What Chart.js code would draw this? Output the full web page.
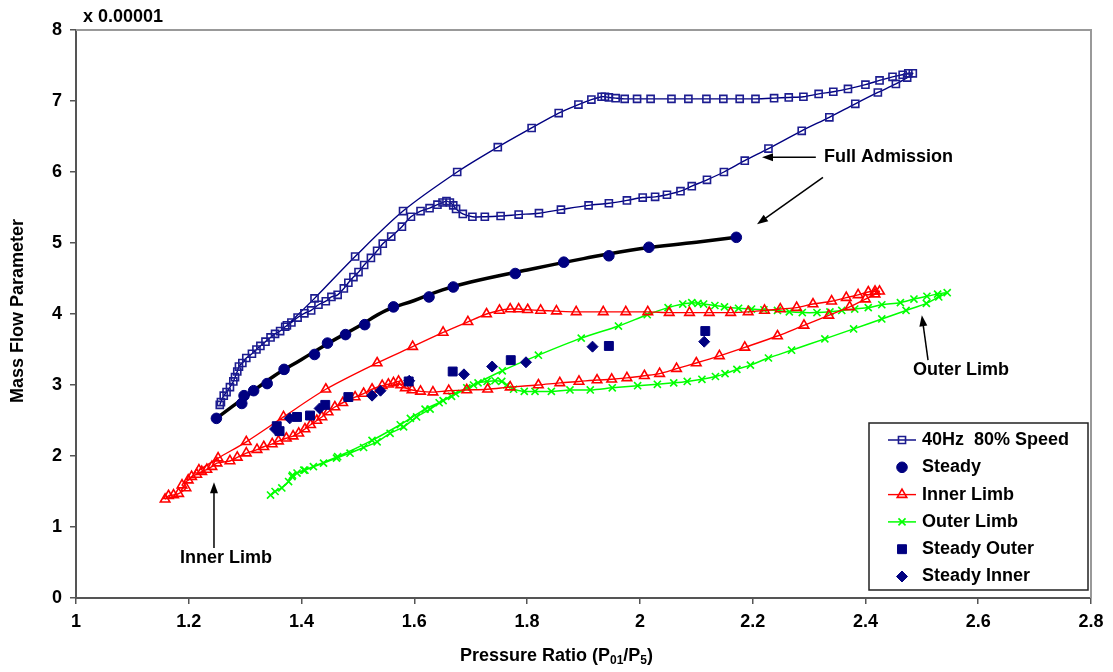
<!DOCTYPE html>
<html>
<head>
<meta charset="utf-8">
<script src="https://cdn.jsdelivr.net/npm/chart.js@4.4.1/dist/chart.umd.min.js"></script>
<style>
  html, body { margin: 0; padding: 0; background: #fff; }
  #grafico { display: block; }
</style>
</head>
<body>
<canvas id="grafico" width="1113" height="672"></canvas>
<script>
/* ============================================================
DADOS
============================================================ */

// 40Hz 80% Speed (loop: ramo de baixo ida, ramo de cima volta)
const fullX = [1.255, 1.257, 1.262, 1.267, 1.273, 1.279, 1.282, 1.286, 1.289, 1.295, 1.302, 1.312, 1.320, 1.327, 1.336, 1.345, 1.353, 1.362, 1.371, 1.382, 1.393, 1.405, 1.417, 1.430, 1.443, 1.453, 1.464, 1.475, 1.483, 1.492, 1.501, 1.511, 1.523, 1.534, 1.544, 1.559, 1.578, 1.594, 1.611, 1.627, 1.641, 1.650, 1.657, 1.663, 1.669, 1.674, 1.686, 1.703, 1.725, 1.753, 1.785, 1.821, 1.860, 1.909, 1.945, 1.977, 2.005, 2.027, 2.048, 2.072, 2.092, 2.119, 2.149, 2.186, 2.228, 2.287, 2.336, 2.382, 2.422, 2.454, 2.474, 2.484,
  2.476, 2.466, 2.448, 2.425, 2.400, 2.369, 2.343, 2.317, 2.290, 2.264, 2.238, 2.205, 2.177, 2.148, 2.118, 2.086, 2.056, 2.019, 1.995, 1.973, 1.957, 1.945, 1.938, 1.932, 1.914, 1.891, 1.856, 1.808, 1.748, 1.676, 1.580, 1.495, 1.423, 1.374];
const fullY = [2.72, 2.76, 2.85, 2.90, 2.97, 3.05, 3.11, 3.19, 3.26, 3.31, 3.38, 3.44, 3.50, 3.55, 3.61, 3.67, 3.72, 3.76, 3.82, 3.88, 3.95, 4.01, 4.05, 4.13, 4.18, 4.24, 4.27, 4.36, 4.44, 4.52, 4.59, 4.69, 4.79, 4.89, 4.99, 5.09, 5.23, 5.37, 5.45, 5.49, 5.54, 5.57, 5.59, 5.57, 5.53, 5.48, 5.41, 5.37, 5.37, 5.38, 5.40, 5.42, 5.47, 5.53, 5.56, 5.60, 5.64, 5.65, 5.68, 5.73, 5.80, 5.89, 6.00, 6.16, 6.33, 6.58, 6.77, 6.96, 7.12, 7.24, 7.33, 7.39,
  7.39, 7.37, 7.34, 7.29, 7.23, 7.17, 7.13, 7.10, 7.06, 7.05, 7.04, 7.03, 7.03, 7.03, 7.03, 7.03, 7.03, 7.03, 7.03, 7.03, 7.04, 7.05, 7.06, 7.06, 7.02, 6.95, 6.83, 6.62, 6.35, 6.00, 5.45, 4.81, 4.22, 3.84];

// Steady
const steadyX = [1.249, 1.294, 1.298, 1.315, 1.339, 1.369, 1.423, 1.446, 1.478, 1.512, 1.563, 1.626, 1.669, 1.779, 1.865, 1.945, 2.016, 2.171];
const steadyY = [2.53, 2.74, 2.85, 2.92, 3.02, 3.22, 3.43, 3.59, 3.71, 3.85, 4.10, 4.24, 4.38, 4.57, 4.73, 4.82, 4.94, 5.08];

// curva preta (Full Admission)
const curvaX = [1.249, 1.30, 1.35, 1.40, 1.45, 1.50, 1.55, 1.60, 1.65, 1.70, 1.80, 1.90, 2.00, 2.10, 2.171];
const curvaY = [2.53, 2.83, 3.12, 3.36, 3.60, 3.82, 4.05, 4.19, 4.34, 4.45, 4.62, 4.78, 4.92, 5.01, 5.08];

// Inner Limb
const innerX = [1.158, 1.164, 1.173, 1.182, 1.195, 1.188, 1.199, 1.205, 1.214, 1.223, 1.232, 1.241, 1.250, 1.273, 1.286, 1.302, 1.321, 1.333, 1.348, 1.359, 1.373, 1.385, 1.395, 1.406, 1.416, 1.427, 1.436, 1.447, 1.459, 1.473, 1.495, 1.510, 1.525, 1.543, 1.554, 1.563, 1.572, 1.576, 1.584, 1.596, 1.611, 1.633, 1.661, 1.693, 1.730, 1.770, 1.820, 1.858, 1.892, 1.924, 1.950, 1.977, 2.008, 2.035, 2.065, 2.100, 2.141, 2.186, 2.244, 2.291, 2.335, 2.372, 2.400, 2.417, 2.425,
  2.417, 2.405, 2.387, 2.366, 2.340, 2.307, 2.278, 2.249, 2.221, 2.192, 2.161, 2.123, 2.088, 2.052, 2.014, 1.975, 1.935, 1.887, 1.852, 1.824, 1.801, 1.785, 1.770, 1.751, 1.728, 1.695, 1.651, 1.597, 1.534, 1.443, 1.368, 1.302, 1.252, 1.218];
const innerY = [1.39, 1.44, 1.45, 1.47, 1.55, 1.59, 1.66, 1.71, 1.74, 1.78, 1.81, 1.85, 1.90, 1.93, 1.98, 2.04, 2.09, 2.13, 2.17, 2.21, 2.25, 2.28, 2.32, 2.38, 2.44, 2.50, 2.55, 2.62, 2.69, 2.75, 2.83, 2.88, 2.94, 2.99, 3.01, 3.03, 3.05, 3.00, 2.96, 2.93, 2.91, 2.90, 2.92, 2.93, 2.94, 2.97, 3.00, 3.03, 3.05, 3.07, 3.08, 3.10, 3.13, 3.16, 3.23, 3.31, 3.41, 3.53, 3.69, 3.84, 3.98, 4.10, 4.21, 4.28, 4.32,
  4.32, 4.31, 4.27, 4.23, 4.18, 4.14, 4.09, 4.07, 4.05, 4.03, 4.02, 4.02, 4.02, 4.02, 4.03, 4.03, 4.03, 4.03, 4.04, 4.05, 4.06, 4.07, 4.07, 4.05, 4.00, 3.89, 3.74, 3.54, 3.31, 2.94, 2.55, 2.20, 1.97, 1.80];

// Outer Limb
const outerX = [1.345, 1.353, 1.365, 1.377, 1.383, 1.392, 1.406, 1.421, 1.439, 1.462, 1.486, 1.510, 1.534, 1.557, 1.581, 1.604, 1.628, 1.651, 1.673, 1.693, 1.713, 1.729, 1.743, 1.755, 1.764, 1.776, 1.795, 1.814, 1.843, 1.876, 1.912, 1.951, 1.996, 2.031, 2.060, 2.084, 2.110, 2.134, 2.151, 2.172, 2.196, 2.228, 2.269, 2.328, 2.379, 2.429, 2.472, 2.508, 2.530, 2.545,
  2.528, 2.509, 2.486, 2.462, 2.429, 2.405, 2.381, 2.358, 2.337, 2.314, 2.288, 2.265, 2.244, 2.220, 2.198, 2.175, 2.150, 2.133, 2.113, 2.103, 2.092, 2.076, 2.050, 2.013, 1.962, 1.896, 1.820, 1.756, 1.705, 1.666, 1.644, 1.619, 1.593, 1.575, 1.525, 1.464, 1.404, 1.384];
const outerY = [1.45, 1.50, 1.55, 1.64, 1.71, 1.76, 1.80, 1.85, 1.90, 1.97, 2.04, 2.12, 2.20, 2.32, 2.41, 2.55, 2.66, 2.78, 2.88, 2.96, 3.03, 3.05, 3.06, 3.05, 3.00, 2.94, 2.91, 2.91, 2.91, 2.93, 2.93, 2.96, 2.99, 3.01, 3.03, 3.05, 3.08, 3.12, 3.16, 3.22, 3.28, 3.38, 3.49, 3.65, 3.79, 3.93, 4.05, 4.15, 4.24, 4.30,
  4.28, 4.25, 4.21, 4.16, 4.13, 4.09, 4.07, 4.05, 4.03, 4.02, 4.02, 4.03, 4.05, 4.06, 4.07, 4.08, 4.10, 4.12, 4.14, 4.15, 4.16, 4.14, 4.09, 3.99, 3.83, 3.66, 3.42, 3.20, 3.00, 2.84, 2.75, 2.66, 2.53, 2.44, 2.22, 1.99, 1.80, 1.73];

// Steady Outer
const stOuterX = [1.356, 1.361, 1.392, 1.415, 1.442, 1.483, 1.590, 1.668, 1.771, 1.945, 2.116];
const stOuterY = [2.42, 2.35, 2.55, 2.57, 2.72, 2.83, 3.05, 3.19, 3.35, 3.55, 3.76];

// Steady Inner
const stInnerX = [1.353, 1.379, 1.432, 1.525, 1.540, 1.591, 1.688, 1.738, 1.798, 1.916, 2.114];
const stInnerY = [2.38, 2.53, 2.67, 2.85, 2.92, 3.06, 3.15, 3.26, 3.32, 3.54, 3.61];

// eixos
const xTicks = [1, 1.2, 1.4, 1.6, 1.8, 2, 2.2, 2.4, 2.6, 2.8];
const yTicks = [0, 1, 2, 3, 4, 5, 6, 7, 8];

function pontos(xs, ys) {
  return xs.map((x, i) => ({ x: x, y: ys[i] }));
}

const FONTE = "Arial, 'Liberation Sans', sans-serif";
const AZUL = "#000080";

/* ============================================================
PLUGIN: TITULOS, LEGENDA, SETAS
============================================================ */

function seta(ctx, x1, y1, x2, y2) {
  const ang = Math.atan2(y2 - y1, x2 - x1);
  const tam = 11;
  ctx.beginPath();
  ctx.moveTo(x1, y1);
  ctx.lineTo(x2 - Math.cos(ang) * tam * 0.8, y2 - Math.sin(ang) * tam * 0.8);
  ctx.stroke();
  ctx.beginPath();
  ctx.moveTo(x2, y2);
  ctx.lineTo(x2 - Math.cos(ang) * tam + Math.sin(ang) * 4, y2 - Math.sin(ang) * tam - Math.cos(ang) * 4);
  ctx.lineTo(x2 - Math.cos(ang) * tam - Math.sin(ang) * 4, y2 - Math.sin(ang) * tam + Math.cos(ang) * 4);
  ctx.closePath();
  ctx.fill();
}

const decoracao = {
  id: "decoracao",
  afterDraw(chart) {
    const { ctx, chartArea: a, scales } = chart;
    const px = (v) => scales.x.getPixelForValue(v);
    const py = (v) => scales.y.getPixelForValue(v);

    ctx.save();

    /* moldura cinza em cima e na direita */
    ctx.strokeStyle = "#999";
    ctx.lineWidth = 2;
    ctx.beginPath();
    ctx.moveTo(a.left, a.top);
    ctx.lineTo(a.right, a.top);
    ctx.lineTo(a.right, a.bottom);
    ctx.stroke();

    ctx.fillStyle = "#000";
    ctx.textBaseline = "middle";

    /* multiplicador */
    ctx.font = "bold 18px " + FONTE;
    ctx.textAlign = "left";
    ctx.fillText("x 0.00001", a.left + 7, a.top - 13);

    /* titulo eixo y */
    ctx.save();
    ctx.translate(18, (a.top + a.bottom) / 2 - 3);
    ctx.rotate(-Math.PI / 2);
    ctx.textAlign = "center";
    ctx.fillText("Mass Flow Parameter", 0, 0);
    ctx.restore();

    /* titulo eixo x com subscritos */
    const partes = [
      ["Pressure Ratio (P", false],
      ["01", true],
      ["/P", false],
      ["5", true],
      [")", false],
    ];
    const fNormal = "bold 18px " + FONTE;
    const fSub = "bold 12px " + FONTE;
    let largura = 0;
    partes.forEach(([t, sub]) => {
      ctx.font = sub ? fSub : fNormal;
      largura += ctx.measureText(t).width;
    });
    let cx = chart.width / 2 - largura / 2;
    const ty = 656;
    ctx.textAlign = "left";
    partes.forEach(([t, sub]) => {
      ctx.font = sub ? fSub : fNormal;
      ctx.fillText(t, cx, sub ? ty + 5 : ty);
      cx += ctx.measureText(t).width;
    });

    /* anotacoes */
    ctx.font = "bold 18px " + FONTE;
    ctx.strokeStyle = "#000";
    ctx.lineWidth = 1.5;
    ctx.textAlign = "left";
    ctx.fillText("Full Admission", px(2.3265), py(6.206));
    seta(ctx, px(2.312), py(6.206), px(2.2165), py(6.206));
    seta(ctx, px(2.3247), py(5.925), px(2.2077), py(5.263));

    ctx.textAlign = "center";
    ctx.fillText("Inner Limb", px(1.266), py(0.563));
    seta(ctx, px(1.2447), py(0.704), px(1.2447), py(1.632));

    ctx.textAlign = "left";
    ctx.fillText("Outer Limb", px(2.4843), py(3.209));
    seta(ctx, px(2.511), py(3.349), px(2.5), py(3.983));

    /* legenda */
    const lx = a.right - 222;
    const ly = a.bottom - 175;
    ctx.fillStyle = "#fff";
    ctx.fillRect(lx, ly, 219, 167);
    ctx.strokeStyle = "#222";
    ctx.lineWidth = 1.5;
    ctx.strokeRect(lx, ly, 219, 167);

    chart.data.datasets.forEach((ds) => {
      if (ds.legenda === undefined) return;
      const yy = ly + 17 + ds.legenda * 27.3;
      const mx = lx + 33;
      if (ds.showLine) {
        ctx.strokeStyle = ds.borderColor;
        ctx.lineWidth = ds.borderWidth;
        ctx.beginPath();
        ctx.moveTo(lx + 19, yy);
        ctx.lineTo(lx + 47, yy);
        ctx.stroke();
      }
      ctx.fillStyle = ds.pointBackgroundColor;
      ctx.strokeStyle = ds.pointBorderColor;
      ctx.lineWidth = ds.pointBorderWidth;
      Chart.helpers.drawPoint(ctx, {
        pointStyle: ds.pointStyle,
        radius: ds.pointRadius,
        rotation: 0,
        borderWidth: ds.pointBorderWidth,
      }, mx, yy);
      ctx.fillStyle = "#000";
      ctx.font = "bold 18px " + FONTE;
      ctx.textAlign = "left";
      ctx.fillText(ds.label, lx + 53, yy);
    });

    ctx.restore();
  },
};

/* ============================================================
GRAFICO
============================================================ */

new Chart(document.getElementById("grafico"), {
  type: "scatter",
  data: {
    datasets: [
      {
        label: "40Hz  80% Speed",
        legenda: 0,
        order: 5,
        data: pontos(fullX, fullY),
        showLine: true,
        tension: 0.3,
        borderColor: AZUL,
        borderWidth: 1.4,
        pointStyle: "rect",
        pointRadius: 5,
        pointBorderWidth: 1.6,
        pointBorderColor: "#1c1c90",
        pointBackgroundColor: "rgba(255,255,255,0)",
      },
      {
        label: "Steady",
        legenda: 1,
        order: 2,
        data: pontos(steadyX, steadyY),
        showLine: false,
        pointStyle: "circle",
        pointRadius: 5.3,
        pointBorderWidth: 1,
        pointBorderColor: AZUL,
        pointBackgroundColor: AZUL,
      },
      {
        label: "curva",
        order: 3,
        data: pontos(curvaX, curvaY),
        showLine: true,
        tension: 0.4,
        borderColor: "#000",
        borderWidth: 3.5,
        pointRadius: 0,
      },
      {
        label: "Inner Limb",
        legenda: 2,
        order: 6,
        data: pontos(innerX, innerY),
        showLine: true,
        tension: 0.3,
        borderColor: "#ff0000",
        borderWidth: 1.4,
        pointStyle: "triangle",
        pointRadius: 5.5,
        pointBorderWidth: 1.6,
        pointBorderColor: "#ff0000",
        pointBackgroundColor: "rgba(255,255,255,0)",
      },
      {
        label: "Outer Limb",
        legenda: 3,
        order: 7,
        data: pontos(outerX, outerY),
        showLine: true,
        tension: 0.3,
        borderColor: "#00ff00",
        borderWidth: 1.5,
        pointStyle: "crossRot",
        pointRadius: 5,
        pointBorderWidth: 1.6,
        pointBorderColor: "#00ff00",
        pointBackgroundColor: "#00ff00",
      },
      {
        label: "Steady Outer",
        legenda: 4,
        order: 1,
        data: pontos(stOuterX, stOuterY),
        showLine: false,
        pointStyle: "rect",
        pointRadius: 6.3,
        pointBorderWidth: 1,
        pointBorderColor: AZUL,
        pointBackgroundColor: AZUL,
      },
      {
        label: "Steady Inner",
        legenda: 5,
        order: 0,
        data: pontos(stInnerX, stInnerY),
        showLine: false,
        pointStyle: "rectRot",
        pointRadius: 5.5,
        pointBorderWidth: 1,
        pointBorderColor: AZUL,
        pointBackgroundColor: AZUL,
      },
    ],
  },
  options: {
    responsive: false,
    animation: false,
    devicePixelRatio: 1,
    layout: { padding: { top: 30, right: 22, left: 0, bottom: 0 } },
    plugins: {
      legend: { display: false },
      tooltip: { enabled: false },
    },
    scales: {
      x: {
        type: "linear",
        min: 1,
        max: 2.8,
        afterFit: (s) => { s.height = 74; },
        afterBuildTicks: (s) => { s.ticks = xTicks.map((v) => ({ value: v })); },
        border: { color: "#555", width: 2 },
        grid: { drawOnChartArea: false, drawTicks: true, tickLength: 6, color: "#555", lineWidth: 1.5 },
        ticks: {
          color: "#000",
          font: { family: FONTE, size: 18, weight: "bold" },
          padding: 7,
          maxRotation: 0,
          callback: (v) => String(+v.toFixed(1)),
        },
      },
      y: {
        type: "linear",
        min: 0,
        max: 8,
        afterFit: (s) => { s.width = 76; },
        afterBuildTicks: (s) => { s.ticks = yTicks.map((v) => ({ value: v })); },
        border: { color: "#555", width: 2 },
        grid: { drawOnChartArea: false, drawTicks: true, tickLength: 6, color: "#555", lineWidth: 1.5 },
        ticks: {
          color: "#000",
          font: { family: FONTE, size: 18, weight: "bold" },
          padding: 8,
          callback: (v) => String(v),
        },
      },
    },
  },
  plugins: [decoracao],
});
</script>
</body>
</html>
